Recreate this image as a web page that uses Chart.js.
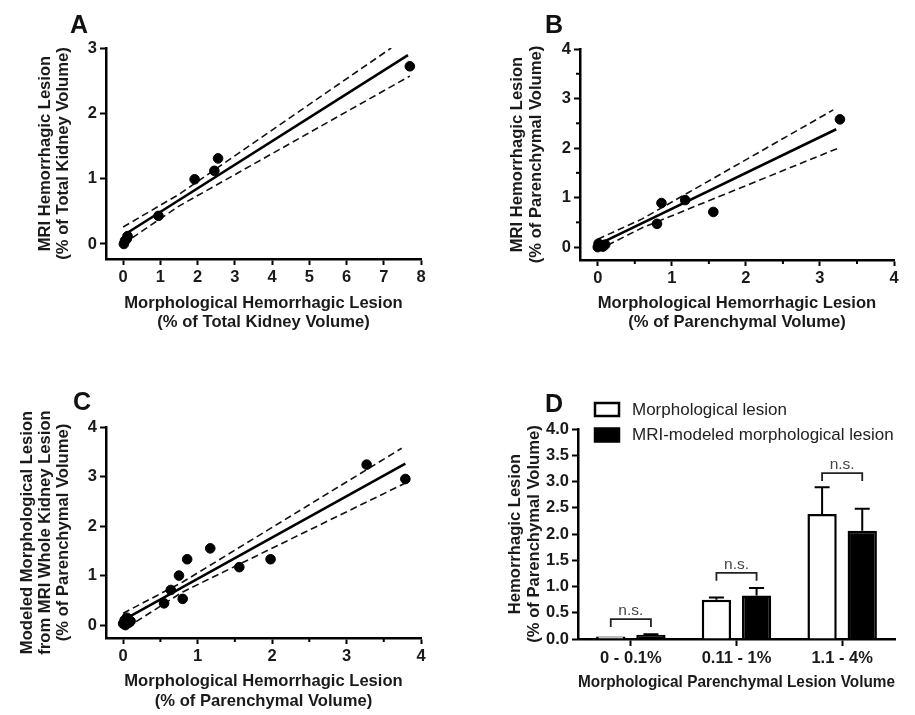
<!DOCTYPE html>
<html>
<head>
<meta charset="utf-8">
<script src="https://cdn.jsdelivr.net/npm/chart.js@4.4.1/dist/chart.umd.min.js"></script>
<style>
  body { margin: 0; background: #fff; }
  #wrap { position: relative; width: 915px; height: 715px; overflow: hidden; }
  #wrap canvas { position: absolute; }
</style>
</head>
<body>
<div id="wrap">
  <canvas id="chartA" width="455" height="340" style="left:0;top:0"></canvas>
  <canvas id="chartB" width="460" height="340" style="left:455px;top:0"></canvas>
  <canvas id="chartC" width="455" height="375" style="left:0;top:340px"></canvas>
  <canvas id="chartD" width="460" height="375" style="left:455px;top:340px"></canvas>
</div>
<script>
// Panel A - % of total kidney volume
const morphA = [0.02, 0.05, 0.1, 0.12, 0.95, 1.92, 2.45, 2.55, 7.7];
const mriA = [0.0, 0.05, 0.08, 0.12, 0.43, 0.99, 1.12, 1.31, 2.72];
const fitAX = [0, 7.65], fitAY = [0.13, 2.89];
const hiAX = [0, 1.5, 7.2], hiAY = [0.26, 0.76, 3.0];
const loAX = [0, 1.5, 7.7], loAY = [0.0, 0.58, 2.57];
const xTicksA = [0, 1, 2, 3, 4, 5, 6, 7, 8];
const yTicksA = [0, 1, 2, 3];

// Panel B - % of parenchymal volume
const morphB = [0.0, 0.01, 0.04, 0.07, 0.1, 0.8, 0.86, 1.18, 1.56, 3.27];
const mriB = [0.0, 0.07, 0.03, 0.01, 0.05, 0.47, 0.89, 0.95, 0.71, 2.58];
const fitBX = [0, 3.22], fitBY = [0.05, 2.38];
const hiBX = [0, 0.6, 3.18], hiBY = [0.16, 0.57, 2.77];
const loBX = [0, 0.6, 3.25], loBY = [-0.06, 0.39, 2.0];
const xTicksB = [0, 1, 2, 3, 4];
const yTicksB = [0, 1, 2, 3, 4];
const minorB = [0.5, 1.5, 2.5, 3.5];

// Panel C - modeled lesion from MRI whole kidney lesion
const morphC = [0.0, 0.02, 0.05, 0.08, 0.1, 0.03, 0.55, 0.64, 0.75, 0.8, 0.86, 1.17, 1.56, 1.98, 3.27, 3.79];
const modelC = [0.03, 0.1, 0.15, 0.05, 0.08, 0.0, 0.44, 0.71, 1.0, 0.53, 1.33, 1.55, 1.17, 1.33, 3.24, 2.95];
const fitCX = [0, 3.79], fitCY = [0.1, 3.26];
const hiCX = [0, 0.8, 3.74], hiCY = [0.24, 0.87, 3.57];
const loCX = [0.05, 0.8, 3.82], loCY = [-0.05, 0.67, 2.89];
const xTicksC = [0, 1, 2, 3, 4];
const yTicksC = [0, 1, 2, 3, 4];
const minorC = [0.5, 1.5, 2.5, 3.5];

// Panel D - grouped bars
const categoriesD = ['0 - 0.1%', '0.11 - 1%', '1.1 - 4%'];
const morphD = [0.05, 0.75, 2.38];
const morphErrD = [0, 0.04, 0.51];
const mriD = [0.08, 0.83, 2.06];
const mriErrD = [0.01, 0.14, 0.42];
const nsLevelsD = [0.38, 1.26, 3.16];
const yTicksD = [0, 0.5, 1, 1.5, 2, 2.5, 3, 3.5, 4];

const FONT = "'Liberation Sans', Arial, sans-serif";
const INK = '#1a1a1a';
Chart.defaults.font.family = FONT;
Chart.defaults.color = INK;

function pts(xs, ys) {
    return xs.map((x, i) => ({ x: x, y: ys[i] }));
}

// short ticks between the labelled ones
const minorTicks = {
    id: 'minorTicks',
    afterDraw(chart, args, opts) {
        const { ctx, chartArea, scales } = chart;
        ctx.save();
        ctx.strokeStyle = '#000';
        ctx.lineWidth = 2;
        (opts.x || []).forEach(v => {
            const px = scales.x.getPixelForValue(v);
            ctx.beginPath();
            ctx.moveTo(px, chartArea.bottom);
            ctx.lineTo(px, chartArea.bottom + 4);
            ctx.stroke();
        });
        (opts.y || []).forEach(v => {
            const py = scales.y.getPixelForValue(v);
            ctx.beginPath();
            ctx.moveTo(chartArea.left, py);
            ctx.lineTo(chartArea.left - 4, py);
            ctx.stroke();
        });
        ctx.restore();
    }
};

// the A / B / C / D letters
const panelLetter = {
    id: 'panelLetter',
    afterDraw(chart, args, opts) {
        const ctx = chart.ctx;
        ctx.save();
        ctx.font = 'bold 25px ' + FONT;
        ctx.fillStyle = '#111';
        ctx.textBaseline = 'alphabetic';
        ctx.fillText(opts.text, opts.x, opts.y);
        ctx.restore();
    }
};

function axis(o) {
    const cfg = {
        type: 'linear',
        min: o.min,
        max: o.max,
        afterBuildTicks: s => { s.ticks = o.ticks.map(v => ({ value: v })); },
        afterFit: s => {
            if (s.isHorizontal()) s.height = o.size;
            else s.width = o.size;
        },
        border: { color: '#000', width: 2.5 },
        grid: { drawOnChartArea: false, tickLength: 6, tickWidth: 2, tickColor: '#000' },
        ticks: { color: INK, font: { size: 16.5, weight: 'bold' }, padding: 3, autoSkip: false, maxRotation: 0 },
        title: {
            display: true,
            text: o.title,
            color: INK,
            font: { size: 16.6, weight: 'bold', lineHeight: o.lh || 1.16 },
            padding: o.tpad
        }
    };
    if (o.fmt) cfg.ticks.callback = o.fmt;
    return cfg;
}

function scatterPanel(id, p) {
    const dash = { borderColor: '#111', borderWidth: 1.6, borderDash: [7, 4], pointRadius: 0, fill: false };
    return new Chart(document.getElementById(id), {
        type: 'scatter',
        data: {
            datasets: [
                { label: 'Kidneys', data: pts(p.px, p.py), backgroundColor: '#000', borderColor: '#000', pointRadius: 4.8 },
                { type: 'line', label: 'Linear fit', data: pts(p.fx, p.fy), borderColor: '#000', borderWidth: 2.6, pointRadius: 0, fill: false },
                Object.assign({ type: 'line', label: 'Upper 95% CI', data: pts(p.hx, p.hy) }, dash),
                Object.assign({ type: 'line', label: 'Lower 95% CI', data: pts(p.lx, p.ly) }, dash)
            ]
        },
        options: {
            responsive: false,
            animation: false,
            layout: { padding: { top: p.top, right: p.right, left: 0, bottom: 0 } },
            plugins: {
                legend: { display: false },
                tooltip: { enabled: false },
                minorTicks: { x: p.minorX, y: p.minorY },
                panelLetter: p.letter
            },
            scales: { x: p.x, y: p.y }
        },
        plugins: [minorTicks, panelLetter]
    });
}

scatterPanel('chartA', {
    px: morphA, py: mriA, fx: fitAX, fy: fitAY, hx: hiAX, hy: hiAY, lx: loAX, ly: loAY,
    top: 48, right: 34,
    letter: { text: 'A', x: 70, y: 33 },
    x: axis({ min: -0.46, max: 8, ticks: xTicksA, size: 81,
        title: ['Morphological Hemorrhagic Lesion', '(% of Total Kidney Volume)'], tpad: { top: 4, bottom: 8 } }),
    y: axis({ min: -0.23, max: 3, ticks: yTicksA, size: 106,
        title: ['MRI Hemorrhagic Lesion', '(% of Total Kidney Volume)'], lh: 1.1, tpad: { top: 36, bottom: 0 } })
});

scatterPanel('chartB', {
    px: morphB, py: mriB, fx: fitBX, fy: fitBY, hx: hiBX, hy: hiBY, lx: loBX, ly: loBY,
    top: 49, right: 21,
    minorX: minorB, minorY: minorB,
    letter: { text: 'B', x: 90, y: 33 },
    x: axis({ min: -0.24, max: 4, ticks: xTicksB, size: 80,
        title: ['Morphological Hemorrhagic Lesion', '(% of Parenchymal Volume)'], tpad: { top: 4, bottom: 8 } }),
    y: axis({ min: -0.26, max: 4, ticks: yTicksB, size: 125,
        title: ['MRI Hemorrhagic Lesion', '(% of Parenchymal Volume)'], tpad: { top: 53, bottom: 0 } })
});

scatterPanel('chartC', {
    px: morphC, py: modelC, fx: fitCX, fy: fitCY, hx: hiCX, hy: hiCY, lx: loCX, ly: loCY,
    top: 87, right: 34,
    minorX: minorC,
    letter: { text: 'C', x: 73, y: 70 },
    x: axis({ min: -0.23, max: 4, ticks: xTicksC, size: 77,
        title: ['Morphological Hemorrhagic Lesion', '(% of Parenchymal Volume)'], lh: 1.2, tpad: { top: 4, bottom: 4 } }),
    y: axis({ min: -0.26, max: 4, ticks: yTicksC, size: 106,
        title: ['Modeled Morphological Lesion', 'from MRI Whole Kidney Lesion', '(% of Parenchymal Volume)'],
        lh: 1.07, tpad: { top: 19, bottom: 0 } })
});

// panel D plugins: upper error bars, n.s. brackets and the boxed legend
const errorBars = {
    id: 'errorBars',
    afterDatasetsDraw(chart) {
        const ctx = chart.ctx, yScale = chart.scales.y;
        ctx.save();
        ctx.strokeStyle = '#000';
        ctx.lineWidth = 2;
        chart.data.datasets.forEach((ds, di) => {
            chart.getDatasetMeta(di).data.forEach((bar, i) => {
                const e = ds.errPlus[i];
                if (!e) return;
                const top = yScale.getPixelForValue(ds.data[i] + e);
                ctx.beginPath();
                ctx.moveTo(bar.x, bar.y);
                ctx.lineTo(bar.x, top);
                ctx.moveTo(bar.x - 7.5, top);
                ctx.lineTo(bar.x + 7.5, top);
                ctx.stroke();
            });
        });
        ctx.restore();
    }
};

const nsBrackets = {
    id: 'nsBrackets',
    afterDatasetsDraw(chart, args, opts) {
        const ctx = chart.ctx, yScale = chart.scales.y;
        const m0 = chart.getDatasetMeta(0), m1 = chart.getDatasetMeta(1);
        ctx.save();
        ctx.strokeStyle = '#222';
        ctx.lineWidth = 1.8;
        ctx.fillStyle = '#444';
        ctx.font = '15.5px ' + FONT;
        ctx.textAlign = 'center';
        ctx.textBaseline = 'alphabetic';
        opts.levels.forEach((lv, i) => {
            const x1 = m0.data[i].x, x2 = m1.data[i].x;
            const y = yScale.getPixelForValue(lv);
            ctx.beginPath();
            ctx.moveTo(x1, y + 8);
            ctx.lineTo(x1, y);
            ctx.lineTo(x2, y);
            ctx.lineTo(x2, y + 8);
            ctx.stroke();
            ctx.fillText(opts.text, (x1 + x2) / 2, y - 4);
        });
        ctx.restore();
    }
};

const boxLegend = {
    id: 'boxLegend',
    afterDraw(chart, args, opts) {
        const ctx = chart.ctx;
        ctx.save();
        ctx.font = '17px ' + FONT;
        ctx.textBaseline = 'middle';
        chart.data.datasets.forEach((ds, i) => {
            const y = opts.y + i * opts.step;
            ctx.fillStyle = ds.backgroundColor;
            ctx.fillRect(opts.x, y, 24, 13);
            ctx.strokeStyle = '#000';
            ctx.lineWidth = 2.5;
            ctx.strokeRect(opts.x, y, 24, 13);
            ctx.fillStyle = '#222';
            ctx.fillText(ds.label, opts.x + 37, y + 7);
        });
        ctx.restore();
    }
};

const barStyle = { borderColor: '#000', borderWidth: 2.5, categoryPercentage: 0.76, barPercentage: 0.73 };

new Chart(document.getElementById('chartD'), {
    type: 'bar',
    data: {
        labels: categoriesD,
        datasets: [
            Object.assign({ label: 'Morphological lesion', data: morphD, errPlus: morphErrD, backgroundColor: '#fff' }, barStyle),
            Object.assign({ label: 'MRI-modeled morphological lesion', data: mriD, errPlus: mriErrD, backgroundColor: '#000' }, barStyle)
        ]
    },
    options: {
        responsive: false,
        animation: false,
        layout: { padding: { top: 89, right: 20, left: 0, bottom: 0 } },
        plugins: {
            legend: { display: false },
            tooltip: { enabled: false },
            nsBrackets: { levels: nsLevelsD, text: 'n.s.' },
            boxLegend: { x: 140, y: 63, step: 25.5 },
            panelLetter: { text: 'D', x: 90, y: 72 }
        },
        scales: {
            x: {
                type: 'category',
                offset: true,
                afterFit: s => { s.height = 76; },
                border: { color: '#000', width: 2.5 },
                grid: { offset: false, drawOnChartArea: false, tickLength: 7, tickWidth: 2, tickColor: '#000' },
                ticks: { color: INK, font: { size: 16.5, weight: 'bold' }, padding: 3, maxRotation: 0 },
                title: {
                    display: true,
                    text: 'Morphological Parenchymal Lesion Volume',
                    color: INK,
                    font: { size: 16.6, weight: 'bold' },
                    padding: { top: 4, bottom: 23 }
                }
            },
            y: axis({ min: 0, max: 4, ticks: yTicksD, size: 123, fmt: v => v.toFixed(1),
                title: ['Hemorrhagic Lesion', '(% of Parenchymal Volume)'], tpad: { top: 51, bottom: 0 } })
        }
    },
    plugins: [errorBars, nsBrackets, boxLegend, panelLetter]
});
</script>
</body>
</html>
